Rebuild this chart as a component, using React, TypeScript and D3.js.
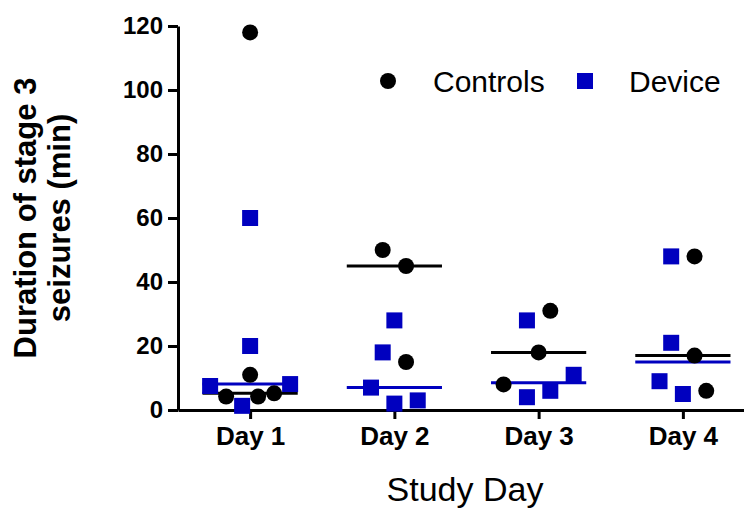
import { useEffect, useRef } from 'react';
import * as d3 from 'd3';

// Duration of stage 3 seizures (min) per study day
const days = ['Day 1', 'Day 2', 'Day 3', 'Day 4'];
const seriesNames = ['Controls', 'Device'];
const controls = [
  [118, 11, 5.2, 4.2, 4.2],
  [50, 45, 15],
  [31, 18, 8],
  [48, 17, 6],
];
const device = [
  [60, 20, 8.1, 7.5, 1.3],
  [28, 18, 7, 3, 2],
  [28, 11, 6, 4],
  [48, 21, 9, 5],
];
const yTicks = [0, 20, 40, 60, 80, 100, 120];

const BLUE = '#0000bf';
const FONT = '"Liberation Sans", Arial, sans-serif';

interface Pt {
  value: number;
  series: number;
  px: number;
  py: number;
}

export default function App() {
  const svgRef = useRef<SVGSVGElement>(null);
  const width = 744;
  const height = 512;

  useEffect(() => {
    if (!svgRef.current) return;
    const svg = d3.select(svgRef.current);
    svg.selectAll('*').remove();

    const left = 178;
    const top = 26;
    const bottom = 410;
    const sym = 16;
    const maxRow = 6;

    const x = d3.scalePoint<string>().domain(days).range([left, left + 577]).padding(0.5);
    const y = d3.scaleLinear().domain([0, 120]).range([bottom, top]);

    // column scatter: chain points from the bottom into rows, spread each row around the centre
    const points: Pt[] = [];
    days.forEach((day, i) => {
      const col: Pt[] = [];
      controls[i].forEach(v => col.push({ value: v, series: 0, px: 0, py: y(v) }));
      device[i].forEach(v => col.push({ value: v, series: 1, px: 0, py: y(v) }));
      col.sort((a, b) => a.value - b.value);

      const rows: Pt[][] = [];
      col.forEach((p, k) => {
        const row = rows[rows.length - 1];
        if (k > 0 && col[k - 1].py - p.py <= sym + 1 && row.length < maxRow) row.push(p);
        else rows.push([p]);
      });

      const cx = x(day) || 0;
      rows.forEach(row => {
        const n = row.length;
        if (n <= 2) row.sort((a, b) => b.series - a.series || b.value - a.value);
        else row.sort((a, b) => b.value - a.value);
        const gap = n > 1 ? Math.min(sym * 1.46, (sym * 5) / (n - 1)) : 0;
        // fill slots from the outside in, alternating sides
        const order: number[] = [];
        let lo = 0;
        let hi = n - 1;
        let right = n >= 4;
        while (lo <= hi) {
          if (right) order.push(hi--);
          else order.push(lo++);
          right = !right;
        }
        row.forEach((p, k) => {
          p.px = cx + (order[k] - (n - 1) / 2) * gap;
          points.push(p);
        });
      });
    });

    // Axes
    const yAxis = svg.append('g')
      .attr('transform', `translate(${left},0)`)
      .call(d3.axisLeft(y).tickValues(yTicks).tickSize(10).tickSizeOuter(0).tickPadding(5));
    yAxis.selectAll('path, line').attr('stroke', '#000').attr('stroke-width', 3);
    yAxis.selectAll('text')
      .attr('fill', '#000')
      .style('font-family', FONT)
      .style('font-weight', 'bold')
      .style('font-size', '24px');

    const xAxis = svg.append('g')
      .attr('transform', `translate(0,${bottom})`)
      .call(d3.axisBottom(x).tickSize(9).tickSizeOuter(0).tickPadding(8));
    xAxis.selectAll('path, line').attr('stroke', '#000').attr('stroke-width', 3);
    xAxis.selectAll('text')
      .attr('fill', '#000')
      .style('font-family', FONT)
      .style('font-weight', 'bold')
      .style('font-size', '26px');

    // Medians
    const half = x.step() * 0.33;
    [controls, device].forEach((series, s) => {
      svg.append('g').selectAll('line')
        .data(days)
        .enter().append('line')
        .attr('x1', d => (x(d) || 0) - half)
        .attr('x2', d => (x(d) || 0) + half)
        .attr('y1', (d, i) => y(d3.median(series[i]) || 0))
        .attr('y2', (d, i) => y(d3.median(series[i]) || 0))
        .attr('stroke', s === 0 ? '#000' : BLUE)
        .attr('stroke-width', 3);
    });

    // Points
    const g = svg.append('g');
    g.selectAll('circle')
      .data(points.filter(p => p.series === 0))
      .enter().append('circle')
      .attr('cx', d => d.px)
      .attr('cy', d => d.py)
      .attr('r', sym / 2)
      .attr('fill', '#000');
    g.selectAll('rect')
      .data(points.filter(p => p.series === 1))
      .enter().append('rect')
      .attr('x', d => d.px - sym / 2)
      .attr('y', d => d.py - sym / 2)
      .attr('width', sym)
      .attr('height', sym)
      .attr('fill', BLUE);

    // Legend
    const legend = svg.append('g').attr('transform', 'translate(388,81)');
    legend.append('circle').attr('r', sym / 2).attr('fill', '#000');
    legend.append('text')
      .attr('x', 45).attr('y', 11)
      .style('font-family', FONT).style('font-size', '30px')
      .text(seriesNames[0]);
    legend.append('rect')
      .attr('x', 197 - sym / 2).attr('y', -sym / 2)
      .attr('width', sym).attr('height', sym)
      .attr('fill', BLUE);
    legend.append('text')
      .attr('x', 241).attr('y', 11)
      .style('font-family', FONT).style('font-size', '30px')
      .text(seriesNames[1]);

    // Axis titles
    svg.append('text')
      .attr('x', 465).attr('y', 501)
      .attr('text-anchor', 'middle')
      .style('font-family', FONT).style('font-size', '34px')
      .text('Study Day');

    const yTitle = svg.append('text')
      .attr('transform', 'translate(36,218) rotate(-90)')
      .attr('text-anchor', 'middle')
      .style('font-family', FONT).style('font-weight', 'bold').style('font-size', '31px');
    yTitle.append('tspan').attr('x', 0).attr('y', 0).text('Duration of stage 3');
    yTitle.append('tspan').attr('x', 0).attr('y', 34).text('seizures (min)');
  }, []);

  return (
    <svg
      ref={svgRef}
      width={width}
      height={height}
      style={{ position: 'absolute', left: 0, top: 0, background: '#fff' }}
    />
  );
}
